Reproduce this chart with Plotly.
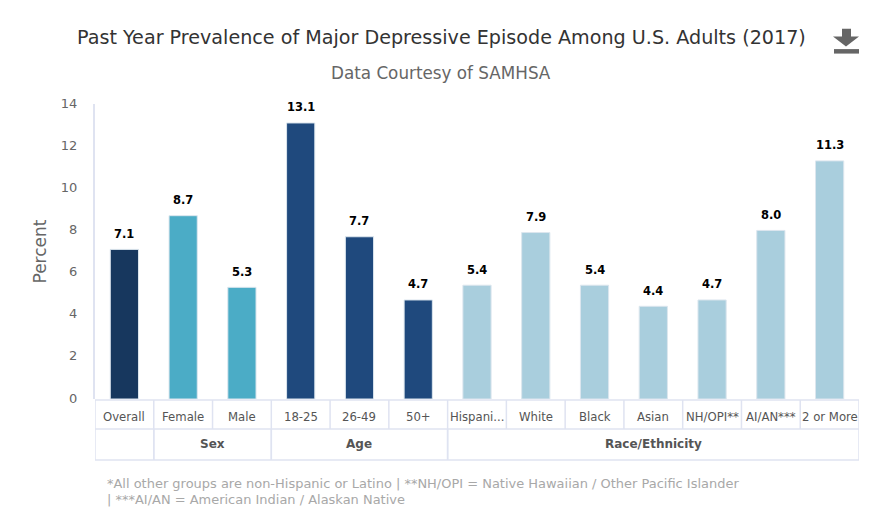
import plotly.graph_objects as go

categories = ["Overall", "Female", "Male", "18-25", "26-49", "50+", "Hispani...",
              "White", "Black", "Asian", "NH/OPI**", "AI/AN***", "2 or More"]
values = [7.1, 8.7, 5.3, 13.1, 7.7, 4.7, 5.4, 7.9, 5.4, 4.4, 4.7, 8.0, 11.3]
value_labels = ["7.1", "8.7", "5.3", "13.1", "7.7", "4.7", "5.4", "7.9", "5.4", "4.4", "4.7", "8.0", "11.3"]
bar_colors = ["#17375e", "#4bacc6", "#4bacc6", "#1f497d", "#1f497d", "#1f497d", "#a9cedd",
              "#a9cedd", "#a9cedd", "#a9cedd", "#a9cedd", "#a9cedd", "#a9cedd"]
groups = [("", 0, 0), ("Sex", 1, 2), ("Age", 3, 5), ("Race/Ethnicity", 6, 12)]
y_ticks = [0, 2, 4, 6, 8, 10, 12, 14]

PAGE = 8  # page body margin
W, H = 875 - PAGE, 522 - PAGE
L, R, T, B = 95, 859, 103.5, 399
FONT = "DejaVu Sans"
LINE = "#dfe3f1"

def px(x):
    return (x - L) / (R - L)

def py(y):
    return (B - y) / (B - T)

fig = go.Figure(go.Bar(
    x=list(range(len(categories))), y=values, width=0.48,
    marker=dict(color=bar_colors, line=dict(color="#dce6ee", width=1)),
    hoverinfo="x+y",
))

shapes = []
annotations = []

def hline(y):
    shapes.append(dict(type="line", xref="paper", yref="paper", x0=0, x1=1, y0=py(y), y1=py(y),
                       line=dict(color=LINE, width=1.5)))

def vline(xv, y0, y1):
    shapes.append(dict(type="line", xref="x", yref="paper", x0=xv, x1=xv, y0=py(y0), y1=py(y1),
                       line=dict(color=LINE, width=1.5)))

hline(400)
hline(429)
hline(460)
for i in range(len(categories) + 1):
    vline(i - 0.5, 400, 429)
for name, a, b in groups:
    vline(a - 0.5, 429, 460)
    vline(b + 0.5, 429, 460)
    if name:
        annotations.append(dict(text=f"<b>{name}</b>", xref="x", yref="paper", x=(a + b) / 2, y=py(444.5),
                                showarrow=False, xanchor="center", yanchor="middle",
                                font=dict(family=FONT, size=12, color="#555555")))
for i, c in enumerate(categories):
    annotations.append(dict(text=c, xref="x", yref="paper", x=i, y=py(417), showarrow=False,
                            xanchor="center", yanchor="middle",
                            font=dict(family=FONT, size=11.7, color="#555555")))
for i, (v, lab) in enumerate(zip(values, value_labels)):
    annotations.append(dict(text=f"<b>{lab}</b>", xref="x", yref="y", x=i, y=v, yshift=15.5, showarrow=False,
                            xanchor="center", yanchor="middle",
                            font=dict(family=FONT, size=11.5, color="#000000")))

def text_px(t, x, y, size, color, anchor="left"):
    annotations.append(dict(text=t, xref="paper", yref="paper", x=px(x), y=py(y), showarrow=False,
                            xanchor=anchor, yanchor="middle",
                            font=dict(family=FONT, size=size, color=color)))

text_px("Past Year Prevalence of Major Depressive Episode Among U.S. Adults (2017)", 441, 37, 19.15, "#333333", "center")
text_px("Data Courtesy of SAMHSA", 441, 72.5, 16.8, "#666666", "center")
text_px("*All other groups are non-Hispanic or Latino | **NH/OPI = Native Hawaiian / Other Pacific Islander", 105, 484, 12.97, "#a8a8a8")
text_px("| ***AI/AN = American Indian / Alaskan Native", 105, 500, 12.97, "#a8a8a8")

# download icon
def p(x, y):
    return f"{px(x):.5f},{py(y):.5f}"

icon = "M" + " L".join(p(*q) for q in [(842, 28), (851, 28), (851, 36), (859, 36), (846, 46), (833, 36), (842, 36)]) + " Z"
shapes.append(dict(type="path", xref="paper", yref="paper", path=icon, fillcolor="#666666", line=dict(width=0)))
shapes.append(dict(type="rect", xref="paper", yref="paper", x0=px(834), x1=px(859), y0=py(53), y1=py(48.5),
                   fillcolor="#666666", line=dict(width=0)))

fig.update_layout(
    width=W, height=H, autosize=False, showlegend=False,
    paper_bgcolor="#ffffff", plot_bgcolor="#ffffff",
    margin=dict(l=L - PAGE, r=W + PAGE - R, t=T - PAGE, b=H + PAGE - B, pad=0),
    shapes=shapes, annotations=annotations,
    font=dict(family=FONT),
    xaxis=dict(range=[-0.5, len(categories) - 0.5], showticklabels=False, showgrid=False,
               zeroline=False, ticks="", showline=False, fixedrange=True),
    yaxis=dict(range=[0, 14], tickvals=y_ticks, showgrid=False, zeroline=False,
               showline=True, linecolor=LINE, linewidth=2, ticks="", ticklen=0,
               ticklabelstandoff=13, ticklabelshift=-1,
               tickfont=dict(family=FONT, size=13, color="#666666"),
               title=dict(text="Percent", font=dict(family=FONT, size=17, color="#666666"), standoff=10),
               fixedrange=True),
)

fig.write_html("out.html", config=dict(displayModeBar=False))
